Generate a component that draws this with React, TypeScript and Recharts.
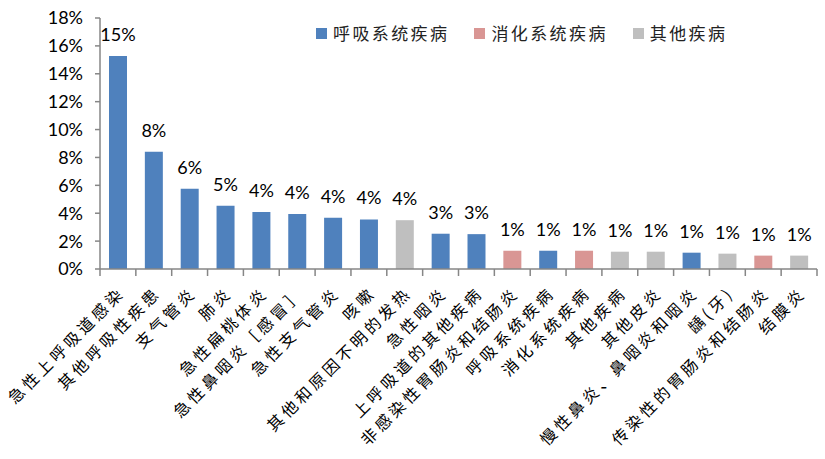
import React from 'react';
import { BarChart, Bar, XAxis, YAxis, Cell, LabelList } from 'recharts';

const categories = [
  '急性上呼吸道感染',
  '其他呼吸性疾患',
  '支气管炎',
  '肺炎',
  '急性扁桃体炎',
  '急性鼻咽炎［感冒］',
  '急性支气管炎',
  '咳嗽',
  '其他和原因不明的发热',
  '急性咽炎',
  '上呼吸道的其他疾病',
  '非感染性胃肠炎和结肠炎',
  '呼吸系统疾病',
  '消化系统疾病',
  '其他疾病',
  '其他皮炎',
  '慢性鼻炎、鼻咽炎和咽炎',
  '龋(牙)',
  '传染性的胃肠炎和结肠炎',
  '结膜炎',
];
const shares = [15.27, 8.4, 5.75, 4.54, 4.09, 3.95, 3.68, 3.55, 3.5, 2.53, 2.5, 1.31, 1.31, 1.31, 1.24, 1.24, 1.17, 1.1, 0.96, 0.96];
const groupIndex = [0, 0, 0, 0, 0, 0, 0, 0, 2, 0, 0, 1, 0, 1, 2, 2, 0, 2, 1, 2];
const groupNames = ['呼吸系统疾病', '消化系统疾病', '其他疾病'];
const groupColors = ['#4F81BD', '#D99694', '#BFBFBF'];
const yTicks = [0, 2, 4, 6, 8, 10, 12, 14, 16, 18];

const data = categories.map((name, i) => ({ name, value: shares[i], group: groupIndex[i] }));

const W = 825;
const H = 459;
const LEFT = 100;
const RIGHT_M = 8;
const TOP = 18;
const BAND = (W - LEFT - RIGHT_M) / categories.length;
const AXIS_COLOR = '#868686';
const NUM_FONT = 'Lato, "Liberation Sans", sans-serif';
const CJK_FONT = '"Noto Sans CJK SC", sans-serif';

const XTick = (props: any) => {
  const { x, y, payload, index } = props;
  const axisY = y - 8;
  const isLast = index === categories.length - 1;
  const ax = x + 8;
  const ay = axisY + 25;
  return (
    <g>
      <line x1={x - BAND / 2} y1={axisY} x2={x - BAND / 2} y2={axisY + 7} stroke={AXIS_COLOR} strokeWidth={1.5} />
      {isLast && (
        <line x1={x + BAND / 2} y1={axisY} x2={x + BAND / 2} y2={axisY + 7} stroke={AXIS_COLOR} strokeWidth={1.5} />
      )}
      <text
        x={ax}
        y={ay}
        textAnchor="end"
        transform={`rotate(-45, ${ax}, ${ay})`}
        fontFamily={CJK_FONT}
        fontSize={16}
        letterSpacing={3.6}
        fill="#000"
      >
        {payload.value}
      </text>
    </g>
  );
};

function LegendBox() {
  return (
    <div
      style={{
        position: 'absolute',
        left: 316,
        top: 21,
        display: 'flex',
        alignItems: 'center',
        whiteSpace: 'nowrap',
        fontFamily: CJK_FONT,
        fontSize: 17,
        lineHeight: '24px',
        color: '#222',
      }}
    >
      {groupNames.map((n, i) => (
        <div key={n} style={{ display: 'flex', alignItems: 'center', flexShrink: 0, marginRight: i < groupNames.length - 1 ? 25 : 0 }}>
          <div style={{ width: 11, height: 11, flexShrink: 0, background: groupColors[i], marginRight: 6 }} />
          <span style={{ letterSpacing: 2.4 }}>{n}</span>
        </div>
      ))}
    </div>
  );
}

export default function App() {
  return (
    <div style={{ position: 'absolute', left: 0, top: 0, width: W, height: H, background: '#fff' }}>
      <BarChart
        width={W}
        height={H}
        data={data}
        margin={{ top: TOP, right: RIGHT_M, left: 0, bottom: 0 }}
        barSize={18}
      >
        <YAxis
          width={LEFT}
          domain={[0, 18]}
          ticks={yTicks}
          interval={0}
          tickFormatter={(v: number) => `${v}%`}
          axisLine={{ stroke: AXIS_COLOR, strokeWidth: 1.5 }}
          tickLine={{ stroke: AXIS_COLOR, strokeWidth: 1.5 }}
          tickSize={5}
          tickMargin={12}
          tick={{ fontFamily: NUM_FONT, fontSize: 18, fill: '#000' }}
        />
        <XAxis
          dataKey="name"
          interval={0}
          height={H - TOP - 251}
          axisLine={{ stroke: AXIS_COLOR, strokeWidth: 1.5 }}
          tickLine={false}
          tickSize={6}
          tickMargin={2}
          tick={<XTick />}
        />
        <Bar dataKey="value" isAnimationActive={false}>
          {data.map((d, i) => (
            <Cell key={i} fill={groupColors[d.group]} />
          ))}
          <LabelList
            dataKey="value"
            position="top"
            offset={15}
            formatter={(v: number) => `${Math.round(v)}%`}
            style={{ fontFamily: NUM_FONT, fontSize: 18, fill: '#000' }}
          />
        </Bar>
      </BarChart>
      <LegendBox />
    </div>
  );
}
